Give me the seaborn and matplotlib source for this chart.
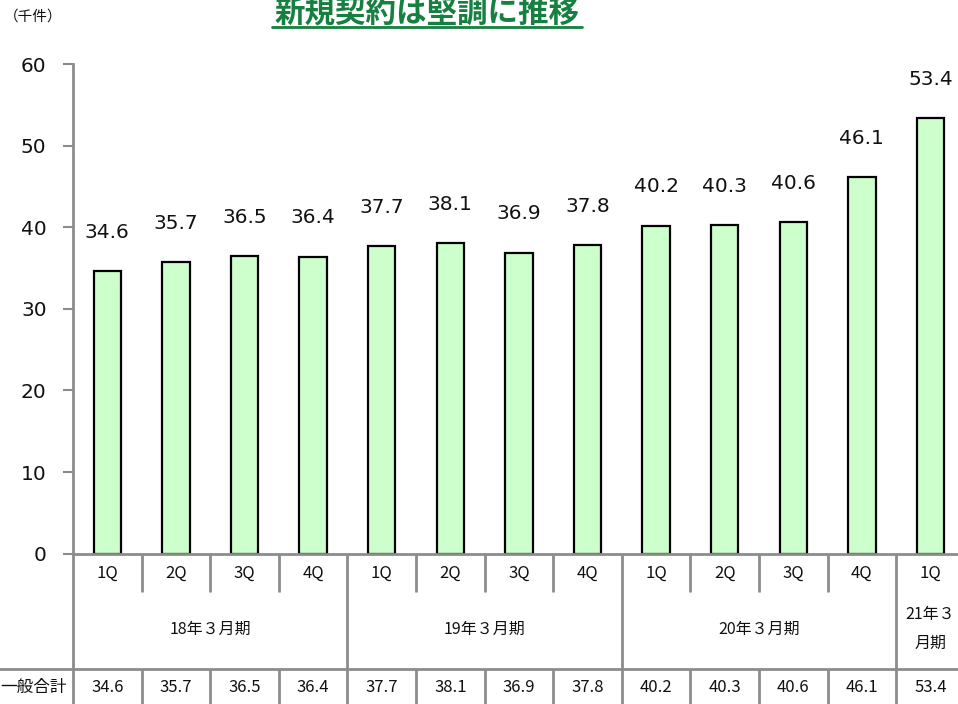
import matplotlib
matplotlib.use("Agg")
import matplotlib.pyplot as plt
import matplotlib.transforms as mtransforms
import seaborn as sns
import pandas as pd

# Quarterly new contracts (thousand)
quarters = ["1Q", "2Q", "3Q", "4Q", "1Q", "2Q", "3Q", "4Q", "1Q", "2Q", "3Q", "4Q", "1Q"]
values = [34.6, 35.7, 36.5, 36.4, 37.7, 38.1, 36.9, 37.8, 40.2, 40.3, 40.6, 46.1, 53.4]
periods = ["18年３月期", "19年３月期", "20年３月期", "21年３\n月期"]
period_sizes = [4, 4, 4, 1]
row_label = "一般合計"
title = "新規契約は堅調に推移"
unit = "（千件）"
yticks = [0, 10, 20, 30, 40, 50, 60]

sns.set_theme(style="white")
plt.rcParams["font.family"] = ["DejaVu Sans", "Noto Sans CJK JP"]
JP = ["Noto Sans CJK JP", "DejaVu Sans"]

W, H = 958, 704
fig = plt.figure(figsize=(W / 100, H / 100), dpi=100)

# axes geometry in pixels (from top-left)
x0_px, y0_px, ytop_px, cat_px = 73, 553.7, 64, 68.6
ax = fig.add_axes([x0_px / W, (H - y0_px) / H, 13 * cat_px / W, (y0_px - ytop_px) / H])

df = pd.DataFrame({"pos": [str(i) for i in range(len(values))], "value": values})
sns.barplot(data=df, x="pos", y="value", ax=ax, color="#CCFFCC", width=0.4,
            edgecolor="black", linewidth=1.6, saturation=1)

ax.set_xlim(-0.5, len(values) - 0.5)
ax.set_ylim(0, 60)
ax.set_yticks(yticks)
ax.set_yticklabels([str(t) for t in yticks], fontsize=14.5, color="#111111")
ax.tick_params(axis="y", length=7, width=1.5, color="#8c8c8c", pad=12, left=True)
ax.set_xticks([])
ax.set_xlabel("")
ax.set_ylabel("")
for s in ["top", "right"]:
    ax.spines[s].set_visible(False)
for s in ["left", "bottom"]:
    ax.spines[s].set_color("#8c8c8c")
    ax.spines[s].set_linewidth(2)
ax.spines["left"].set_zorder(5)

# value labels above bars
for i, v in enumerate(values):
    ax.annotate(f"{v:.1f}", (i, v), xytext=(0, 21), textcoords="offset points",
                ha="center", va="bottom", fontsize=14.5, color="#111111")

# data table beneath the axis
def fy(py):
    return 1 - py / H

blend = mtransforms.blended_transform_factory(ax.transData, fig.transFigure)
grid_kw = dict(color="#8c8c8c", linewidth=2, clip_on=False, transform=blend, solid_capstyle="butt")

row1_bot, row3_top, bottom = 592, 668.5, H + 2
n = len(values)
bounds = [-0.5]
for sz in period_sizes:
    bounds.append(bounds[-1] + sz)

for k in range(n + 1):
    xb = k - 0.5
    if xb in bounds:
        ax.plot([xb, xb], [fy(y0_px), fy(bottom)], **grid_kw)
    else:
        ax.plot([xb, xb], [fy(y0_px), fy(row1_bot)], **grid_kw)
        ax.plot([xb, xb], [fy(row3_top), fy(bottom)], **grid_kw)

fig.add_artist(plt.Line2D([0, 1], [fy(row3_top)] * 2, color="#8c8c8c", linewidth=2))

cell_fs = 12
for i, q in enumerate(quarters):
    ax.text(i, fy(573), q, transform=blend, ha="center", va="center",
            fontsize=cell_fs, family=JP, color="#111111")
    ax.text(i, fy(687), f"{values[i]:.1f}", transform=blend, ha="center", va="center",
            fontsize=cell_fs, family=JP, color="#111111")

for p, a, b in zip(periods, bounds[:-1], bounds[1:]):
    ax.text((a + b) / 2, fy(629), p, transform=blend, ha="center", va="center",
            fontsize=11.5, family=JP, color="#111111", linespacing=1.9)

fig.text(0 / W, fy(687), row_label, ha="left", va="center", fontsize=cell_fs,
         family=JP, color="#111111")

# header
fig.text(4 / W, fy(17), unit, ha="left", va="center", fontsize=10.5, family=JP, color="#111111")
green = "#168040"
fig.text(427 / W, fy(12), title, ha="center", va="center", fontsize=22,
         fontweight="bold", family=JP, color=green)
fig.add_artist(plt.Line2D([272 / W, 582 / W], [fy(26.5)] * 2, color=green, linewidth=2))

fig.savefig("out.png", dpi=100)
